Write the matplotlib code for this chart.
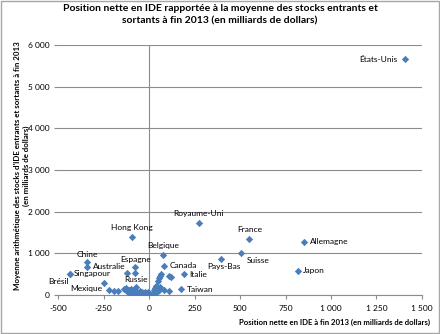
import matplotlib.pyplot as plt
from matplotlib.ticker import FuncFormatter

# Pays nommés : position nette (x) et moyenne des stocks (y), milliards $
pays = ['États-Unis', 'Royaume-Uni', 'Hong Kong', 'France', 'Allemagne', 'Belgique',
        'Suisse', 'Pays-Bas', 'Japon', 'Chine', 'Espagne', 'Australie', 'Canada',
        'Singapour', 'Brésil', 'Italie', 'Mexique', 'Russie', 'Taiwan']
pos_nette = [1405, 272, -94, 551, 853, 78,
             505, 395, 816, -341, -76, -121, 80,
             -435, -435, 190, -250, -70, 175]
moyenne = [5657, 1735, 1400, 1344, 1272, 960,
           1000, 872, 576, 785, 665, 528, 696,
           512, 512, 496, 280, 190, 137]

# Autres économies (sans étiquette)
autres_x = [-341, -76, 65, 52, 118, 60, 111, 47, 38, 56, 107, 80,
            -219, -195, -173, -136, -128, -120, -112, -105, -98, -90, -82, -75,
            -68, -60, -52, -45, -38, -30, -22, -15, -8, -2, 5, 12, -60, -40,
            -20, -90, -110, -5, 20, 30, 35, 40, 48, 55, 62, 45, 25, -125, -100]
autres_y = [680, 528, 496, 400, 420, 449, 449, 329, 209, 127, 89, 120,
            110, 95, 100, 150, 120, 95, 130, 80, 110, 60, 95, 45,
            75, 40, 100, 30, 65, 20, 50, 10, 35, 5, 25, 8, 15, 8,
            70, 25, 50, 60, 30, 80, 160, 200, 150, 120, 185, 60, 120, 160, 140]

# décalage des étiquettes (points) et alignement
place = {
    'États-Unis': (-5, 0, 'right', 'center'),
    'Royaume-Uni': (0, 4, 'center', 'bottom'),
    'Hong Kong': (0, 4, 'center', 'bottom'),
    'France': (0, 4, 'center', 'bottom'),
    'Allemagne': (4, 0, 'left', 'center'),
    'Belgique': (0, 4, 'center', 'bottom'),
    'Suisse': (4, -3, 'left', 'top'),
    'Pays-Bas': (2, -3, 'center', 'top'),
    'Japon': (4, 0, 'left', 'center'),
    'Chine': (0, 3, 'center', 'bottom'),
    'Espagne': (0, 3, 'center', 'bottom'),
    'Australie': (-1, 2, 'right', 'bottom'),
    'Canada': (4, 0, 'left', 'center'),
    'Singapour': (3, 0, 'left', 'center'),
    'Brésil': (-1, -3, 'right', 'top'),
    'Italie': (4, 0, 'left', 'center'),
    'Mexique': (-1, -1, 'right', 'top'),
    'Russie': (0, 3, 'center', 'bottom'),
    'Taiwan': (4, 0, 'left', 'center'),
}

plt.rcParams['font.family'] = ['Lato', 'DejaVu Sans']

fig = plt.figure(figsize=(4.4, 3.34), dpi=100)
ax = fig.add_axes([0.132, 0.117, 0.827, 0.748])

bleu = '#4A7EBB'
gris = '#8C8C8C'

ax.set_xlim(-500, 1500)
ax.set_ylim(0, 6000)
ax.set_xticks(range(-500, 1501, 250))
ax.set_yticks(range(0, 6001, 1000))
fmt = FuncFormatter(lambda v, p: f'{int(v):,}'.replace(',', ' '))
ax.xaxis.set_major_formatter(fmt)
ax.yaxis.set_major_formatter(fmt)
ax.tick_params(axis='both', labelsize=6, colors='black', length=3, width=0.8)
ax.tick_params(axis='x', color=gris, pad=4)
ax.tick_params(axis='y', color=gris, length=3, pad=3)

ax.grid(axis='y', color=gris, linewidth=0.8)
ax.set_axisbelow(True)
for s in ['top', 'right', 'left']:
    ax.spines[s].set_visible(False)
ax.spines['bottom'].set_color(gris)
ax.axvline(0, color=gris, linewidth=0.8, zorder=1)

ax.scatter(autres_x, autres_y, marker='D', s=14, color=bleu, zorder=3, linewidths=0)
ax.scatter(pos_nette, moyenne, marker='D', s=14, color=bleu, zorder=3, linewidths=0)

for nom, x, y in zip(pays, pos_nette, moyenne):
    dx, dy, ha, va = place[nom]
    ax.annotate(nom, (x, y), xytext=(dx, dy), textcoords='offset points',
                ha=ha, va=va, fontsize=6)

fig.text(0.5, 0.955, 'Position nette en IDE rapportée à la moyenne des stocks entrants et\n'
         'sortants à fin 2013 (en milliards de dollars)',
         ha='center', va='center', fontsize=7.5, fontweight='bold', linespacing=1.5)
fig.text(0.978, 0.035, 'Position nette en IDE à fin 2013 (en milliards de dollars)',
         ha='right', va='center', fontsize=5.6, fontweight='bold')
fig.text(0.05, 0.505, "Moyenne arithmétique des stocks d'IDE entrants et sortants à fin 2013\n"
         '(en milliards de dollars)',
         ha='center', va='center', rotation=90, fontsize=5.7, fontweight='bold')

# cadre du graphique
fig.patches.append(plt.Rectangle((0.002, 0.003), 0.995, 0.993, transform=fig.transFigure,
                                 fill=False, edgecolor='#A6A6A6', linewidth=1))

plt.savefig('out.png', dpi=100)
